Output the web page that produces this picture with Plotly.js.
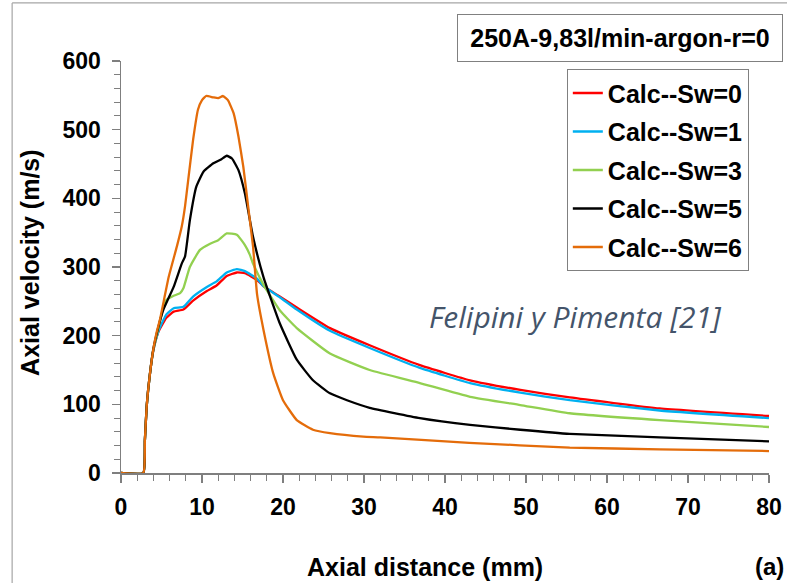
<!DOCTYPE html>
<html>
<head>
<meta charset="utf-8">
<script src="https://cdn.plot.ly/plotly-3.0.1.min.js"></script>
<style>html,body{margin:0;padding:0;background:#fff;}#chart{width:787px;height:583px;}</style>
</head>
<body>
<div id="chart"></div>
<script>
// Sw = 0 (red)
const xSw0 = [0,2.75,2.95,3.17,3.58,4.0,4.6,5.0,5.6,6.5,7.7,8.9,10.6,11.8,13.05,14.3,15.3,16.8,17.6,19.6,21.7,25.8,30.7,36.9,43.1,49.3,55.4,66.5,80];
const ySw0 = [0,0,48,97,145,179,205,214,226,235,238,251,265,273,287,292,291,281,272,257,241,211,186,157,135,121,110,94,83];
// Sw = 1 (blue)
const xSw1 = [0,2.75,2.95,3.17,3.58,4.0,4.6,5.0,5.6,6.5,7.7,8.9,10.6,11.8,13.05,14.3,15.3,16.8,17.6,19.6,21.7,25.8,30.7,36.9,43.1,49.3,55.4,66.5,80];
const ySw1 = [0,0,48,97,145,179,206,217,231,240,242,257,271,279,292,297,294,283,272,256,238,207,182,153,131,117,106,91,80];
// Sw = 3 (green)
const xSw3 = [0,2.75,2.95,3.17,3.58,4.0,4.6,5.2,5.6,6.5,7.3,7.7,8.5,9.75,11,12,13.05,14.3,15.3,15.9,16.3,17.6,19.6,21.7,25.8,30.7,36.9,43.1,49.3,55.4,66.5,80];
const ySw3 = [0,0,48,97,145,180,210,240,252,258,262,269,300,325,334,339,349,347,332,318,305,274,237,211,174,150,131,111,99,87,77,67];
// Sw = 5 (black)
const xSw5 = [0,2.75,2.95,3.17,3.58,4.0,4.6,5.2,6.5,7.5,7.9,8.5,9.3,10.2,11.4,12.4,13.05,13.7,14.5,15.3,16.3,17.6,19.6,21.7,23.7,25.8,27.9,30.7,36.9,43.1,49.3,55.4,66.5,80];
const ySw5 = [0,0,48,97,145,181,212,237,271,305,315,368,417,439,451,457,462,458,441,407,344,285,218,165,135,116,106,95,80,70,63,57,52,46];
// Sw = 6 (orange)
const xSw6 = [0,2.75,2.95,3.17,3.58,4.0,4.4,4.8,5.9,6.9,7.5,7.9,8.3,8.9,9.5,10.0,10.5,11.4,12.0,12.6,13.2,13.9,14.5,15.1,15.7,16.3,16.8,17.6,18.8,20,21.7,23.7,25.8,29.9,32,43,55.4,66.5,80];
const ySw6 = [0,0,48,97,145,181,205,223,286,330,359,388,427,485,529,543,549,547,546,549,543,524,490,446,388,330,260,208,145,106,77,63,58,53,52,44,37,34.5,32];

const seriesNames = ["Calc--Sw=0","Calc--Sw=1","Calc--Sw=3","Calc--Sw=5","Calc--Sw=6"];
const seriesColors = ["#FF0000","#00B0F0","#92D050","#000000","#E46C0A"];
const xs = [xSw0,xSw1,xSw3,xSw5,xSw6];
const ys = [ySw0,ySw1,ySw3,ySw5,ySw6];

const xTickVals = [0,10,20,30,40,50,60,70,80];
const yTickVals = [0,100,200,300,400,500,600];

const xTitle = "Axial distance (mm)";
const yTitle = "Axial velocity (m/s)";
const boxTitle = "250A-9,83l/min-argon-r=0";
const sourceNote = "Felipini y Pimenta [21]";
const panelLabel = "(a)";

const FONT = "Liberation Sans, Arial, sans-serif";

const traces = xs.map((x,i)=>({
  x: x, y: ys[i], name: seriesNames[i], type: 'scatter', mode: 'lines',
  line: {color: seriesColors[i], width: 2.3, shape: 'spline', smoothing: 0.4},
  legendgroup: 'g'+i
}));

const axisCommon = {
  showgrid: false, zeroline: false, showline: true, linecolor: '#7f7f7f', linewidth: 1.5,
  ticks: 'outside', tickcolor: '#7f7f7f', tickwidth: 1.2, ticklen: 8,
  tickfont: {family: FONT, size: 23, color: '#000', weight: 'bold'},
  fixedrange: true
};

const layout = {
  width: 787, height: 583,
  margin: {l: 121, r: 18, t: 61, b: 110},
  paper_bgcolor: '#fff', plot_bgcolor: '#fff',
  showlegend: true,
  xaxis: Object.assign({}, axisCommon, {
    range: [0, 80], tickvals: xTickVals, ticktext: xTickVals.map(String),
    ticklabelstandoff: 5,
    minor: {dtick: 2, ticks: 'outside', ticklen: 6, tickcolor: '#7f7f7f', tickwidth: 1}
  }),
  yaxis: Object.assign({}, axisCommon, {
    range: [0, 600], tickvals: yTickVals, ticktext: yTickVals.map(String),
    ticklabelstandoff: 6,
    minor: {dtick: 20, ticks: 'outside', ticklen: 6, tickcolor: '#7f7f7f', tickwidth: 1}
  }),
  legend: {
    x: 0.688, y: 0.98, xanchor: 'left', yanchor: 'top',
    bgcolor: '#fff', bordercolor: '#808080', borderwidth: 1,
    font: {family: FONT, size: 25, color: '#000', weight: 'bold'},
    tracegroupgap: 3
  },
  annotations: [
    {text: boxTitle, xref: 'paper', yref: 'paper', x: 0.77, y: 1.056, xanchor: 'center', yanchor: 'middle',
     showarrow: false, font: {family: FONT, size: 25, color: '#000', weight: 'bold'},
     bordercolor: '#808080', borderwidth: 1, borderpad: 4, bgcolor: '#fff', width: 316, height: 38},
    {text: sourceNote, xref: 'paper', yref: 'paper', x: 0.702, y: 0.381, xanchor: 'center', yanchor: 'middle',
     showarrow: false, font: {family: 'Open Sans, sans-serif', size: 30, color: '#44546A', style: 'italic'}},
    {text: xTitle, xref: 'paper', yref: 'paper', x: 0.469, y: -0.228, xanchor: 'center', yanchor: 'middle',
     showarrow: false, font: {family: FONT, size: 25, color: '#000', weight: 'bold'}},
    {text: yTitle, xref: 'paper', yref: 'paper', x: -0.1404, y: 0.51, xanchor: 'center', yanchor: 'middle', textangle: -90,
     showarrow: false, font: {family: FONT, size: 25, color: '#000', weight: 'bold'}},
    {text: panelLabel, xref: 'paper', yref: 'paper', x: 1.0, y: -0.228, xanchor: 'center', yanchor: 'middle',
     showarrow: false, font: {family: FONT, size: 24, color: '#000', weight: 'bold'}}
  ],
  shapes: [
    {type: 'line', xref: 'paper', yref: 'paper', x0: -0.168, x1: -0.168, y0: -0.3, y1: 1.141, line: {color: '#a6a6a6', width: 1.2}},
    {type: 'line', xref: 'paper', yref: 'paper', x0: -0.168, x1: 1.04, y0: 1.141, y1: 1.141, line: {color: '#a6a6a6', width: 1.2}}
  ]
};

Plotly.newPlot('chart', traces, layout, {displayModeBar: false, staticPlot: true});
</script>
</body>
</html>
